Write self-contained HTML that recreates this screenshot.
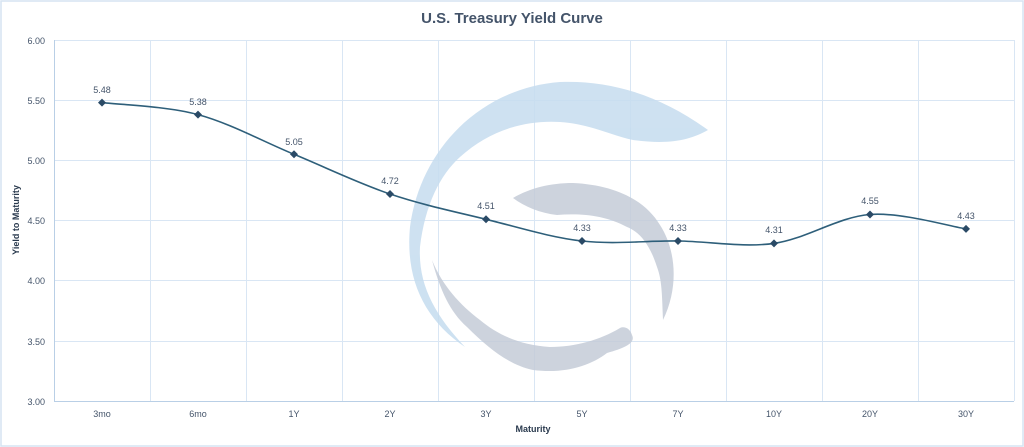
<!DOCTYPE html>
<html><head><meta charset="utf-8"><style>
html,body{margin:0;padding:0;background:#fff;}
svg{display:block;font-family:"Liberation Sans",sans-serif;}
</style></head><body>
<svg width="1024" height="447" viewBox="0 0 1024 447">
<rect x="1" y="1" width="1022" height="445" fill="#fff" stroke="#d6e4f2" stroke-width="1.5"/>
<text x="512" y="23" text-anchor="middle" font-size="15" font-weight="bold" fill="#44546a">U.S. Treasury Yield Curve</text>
<g stroke="#d9e6f4" stroke-width="1">
<line x1="54" y1="40.5" x2="1014" y2="40.5"/>
<line x1="54" y1="100.5" x2="1014" y2="100.5"/>
<line x1="54" y1="160.5" x2="1014" y2="160.5"/>
<line x1="54" y1="220.5" x2="1014" y2="220.5"/>
<line x1="54" y1="280.5" x2="1014" y2="280.5"/>
<line x1="54" y1="341.5" x2="1014" y2="341.5"/>
<line x1="150.5" y1="40" x2="150.5" y2="401"/>
<line x1="246.5" y1="40" x2="246.5" y2="401"/>
<line x1="342.5" y1="40" x2="342.5" y2="401"/>
<line x1="438.5" y1="40" x2="438.5" y2="401"/>
<line x1="534.5" y1="40" x2="534.5" y2="401"/>
<line x1="630.5" y1="40" x2="630.5" y2="401"/>
<line x1="726.5" y1="40" x2="726.5" y2="401"/>
<line x1="822.5" y1="40" x2="822.5" y2="401"/>
<line x1="918.5" y1="40" x2="918.5" y2="401"/>
<line x1="1014.5" y1="40" x2="1014.5" y2="401"/>
</g>
<line x1="54.5" y1="40" x2="54.5" y2="401" stroke="#b9cfe6"/>
<line x1="54" y1="401.5" x2="1014" y2="401.5" stroke="#b9cfe6"/>
<g opacity="0.85">
<path d="M708,130 C660,95 610,80 560,82 C480,88 420,150 410,227 C405,280 425,320 465,347 C435,315 418,285 420,247 C425,205 440,175 460,157 C490,130 525,120 560,122 C590,124 610,135 633,140 C670,145 690,140 708,130 Z" fill="#c5dcef"/>
<path d="M513,198 C530,188 550,183 573,183 C615,185 645,200 660,225 C675,248 680,285 663,320 C662,295 662,280 657,267 C650,245 640,232 627,227 C605,215 580,213 557,215 C540,213 525,207 513,198 Z" fill="#c5ccd8"/>
<path d="M432,260 C440,290 450,312 467,327 C490,350 510,365 533,370 C565,374 590,366 607,353 C625,348 636,343 632,335 C630,328 624,326 620,328 C600,340 575,347 550,347 C520,345 498,335 480,320 C460,305 442,285 432,260 Z" fill="#c5ccd8"/>
</g>
<path d="M102,102.6 C118,104.6 166,106.0 198,114.6 C230,123.2 262,141.1 294,154.3 C326,167.5 358,183.2 390,194.0 C422,204.8 454,211.5 486,219.3 C518,227.1 550,237.4 582,241.0 C614,244.6 646,240.6 678,241.0 C710,241.4 742,247.8 774,243.4 C806,239.0 838,216.9 870,214.5 C902,212.1 950,226.5 966,228.9" fill="none" stroke="#2e5f7a" stroke-width="1.6"/>
<g fill="#2a4a66">
<path d="M102,98.6 l4,4 l-4,4 l-4,-4z"/>
<path d="M198,110.6 l4,4 l-4,4 l-4,-4z"/>
<path d="M294,150.3 l4,4 l-4,4 l-4,-4z"/>
<path d="M390,190 l4,4 l-4,4 l-4,-4z"/>
<path d="M486,215.3 l4,4 l-4,4 l-4,-4z"/>
<path d="M582,237 l4,4 l-4,4 l-4,-4z"/>
<path d="M678,237 l4,4 l-4,4 l-4,-4z"/>
<path d="M774,239.4 l4,4 l-4,4 l-4,-4z"/>
<path d="M870,210.5 l4,4 l-4,4 l-4,-4z"/>
<path d="M966,224.9 l4,4 l-4,4 l-4,-4z"/>
</g>
<g font-size="9" fill="#44546a" text-anchor="middle">
<text x="102" y="93">5.48</text>
<text x="198" y="105">5.38</text>
<text x="294" y="145">5.05</text>
<text x="390" y="184">4.72</text>
<text x="486" y="209">4.51</text>
<text x="582" y="231">4.33</text>
<text x="678" y="231">4.33</text>
<text x="774" y="233">4.31</text>
<text x="870" y="204">4.55</text>
<text x="966" y="219">4.43</text>
</g>
<g font-size="9" fill="#44546a" text-anchor="end">
<text x="45" y="44">6.00</text>
<text x="45" y="104">5.50</text>
<text x="45" y="164">5.00</text>
<text x="45" y="224">4.50</text>
<text x="45" y="284">4.00</text>
<text x="45" y="345">3.50</text>
<text x="45" y="405">3.00</text>
</g>
<g font-size="9" fill="#44546a" text-anchor="middle">
<text x="102" y="417">3mo</text>
<text x="198" y="417">6mo</text>
<text x="294" y="417">1Y</text>
<text x="390" y="417">2Y</text>
<text x="486" y="417">3Y</text>
<text x="582" y="417">5Y</text>
<text x="678" y="417">7Y</text>
<text x="774" y="417">10Y</text>
<text x="870" y="417">20Y</text>
<text x="966" y="417">30Y</text>
</g>
<text x="533" y="432" text-anchor="middle" font-size="9" font-weight="bold" fill="#2a3a4e">Maturity</text>
<text transform="translate(19,220) rotate(-90)" text-anchor="middle" font-size="9" font-weight="bold" fill="#2a3a4e">Yield to Maturity</text>
</svg>
</body></html>
